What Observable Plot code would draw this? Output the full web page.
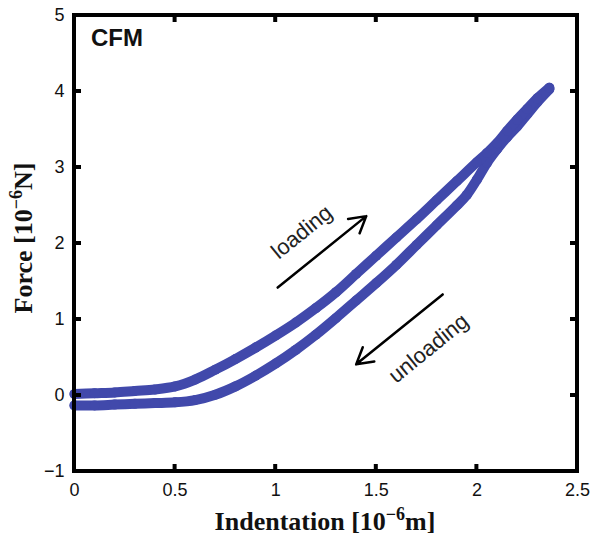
<!DOCTYPE html>
<html><head><meta charset="utf-8">
<script src="https://cdn.jsdelivr.net/npm/d3@7"></script>
<script src="https://cdn.jsdelivr.net/npm/@observablehq/plot@0.6"></script>
<style>html,body{margin:0;background:#fff;overflow:hidden} svg{display:block}</style>
</head><body><div id="chart"></div>
<script>
// Loading branch (upper curve)
const indentLoad = [0, 0.1, 0.2, 0.3, 0.4, 0.5, 0.6, 0.7, 0.8, 0.9, 1.0, 1.1, 1.2, 1.3, 1.4, 1.5, 1.6, 1.7, 1.8, 1.9, 2.0, 2.05, 2.1, 2.15, 2.2, 2.25, 2.3, 2.36];
const forceLoad  = [0.02, 0.03, 0.04, 0.06, 0.08, 0.12, 0.21, 0.34, 0.48, 0.63, 0.79, 0.96, 1.15, 1.36, 1.6, 1.84, 2.08, 2.32, 2.57, 2.82, 3.07, 3.19, 3.32, 3.48, 3.63, 3.77, 3.91, 4.05];
// Unloading branch (lower curve)
const indentUnload = [0, 0.1, 0.2, 0.3, 0.4, 0.5, 0.6, 0.7, 0.8, 0.9, 1.0, 1.1, 1.2, 1.3, 1.4, 1.5, 1.6, 1.7, 1.8, 1.9, 1.95, 2.0, 2.05, 2.1, 2.15, 2.2, 2.25, 2.3, 2.36];
const forceUnload  = [-0.13, -0.13, -0.12, -0.11, -0.1, -0.09, -0.06, 0.01, 0.12, 0.26, 0.42, 0.6, 0.8, 1.02, 1.25, 1.48, 1.72, 1.98, 2.24, 2.5, 2.64, 2.84, 3.06, 3.24, 3.4, 3.54, 3.7, 3.86, 4.03];

const xTicks = [0, 0.5, 1, 1.5, 2, 2.5];
const yTicks = [-1, 0, 1, 2, 3, 4, 5];
const xLimits = [0, 2.5];
const yLimits = [-1, 5];

// Annotations
const noteLabels = ["loading", "unloading"];
const noteX = [1.13, 1.76];
const noteY = [2.15, 0.62];
const arrowX1 = [1.01, 1.83];
const arrowY1 = [1.42, 1.33];
const arrowX2 = [1.45, 1.40];
const arrowY2 = [2.36, 0.41];

const color = "#4149ab";
const load = indentLoad.map((x, i) => ({x, y: forceLoad[i]}));
const unload = indentUnload.map((x, i) => ({x, y: forceUnload[i]}));
const notes = noteLabels.map((t, i) => ({t, x: noteX[i], y: noteY[i]}));
const arrows = arrowX1.map((x1, i) => ({x1, y1: arrowY1[i], x2: arrowX2[i], y2: arrowY2[i]}));
const fmt = d3.format("~g");

const plot = Plot.plot({
  width: 591,
  height: 541,
  marginLeft: 74,
  marginRight: 14,
  marginTop: 15,
  marginBottom: 70,
  style: {fontFamily: "'Liberation Sans', Arial, sans-serif", fontSize: "18px", color: "#111", background: "#fff"},
  x: {domain: xLimits},
  y: {domain: yLimits},
  marks: [
    Plot.line(unload, {x: "x", y: "y", stroke: color, strokeWidth: 10, curve: "catmull-rom", strokeLinecap: "round"}),
    Plot.dot(unload, {x: "x", y: "y", r: 5, fill: color}),
    Plot.line(load, {x: "x", y: "y", stroke: color, strokeWidth: 10, curve: "catmull-rom", strokeLinecap: "round"}),
    Plot.dot(load, {x: "x", y: "y", r: 5, fill: color}),
    Plot.arrow(arrows, {x1: "x1", y1: "y1", x2: "x2", y2: "y2", stroke: "#000", strokeWidth: 2.5, headLength: 11, bend: 0}),
    Plot.text(notes, {x: "x", y: "y", text: "t", rotate: -39, fontSize: 22, fill: "#222"}),
    Plot.axisX({ticks: xTicks, tickSize: 0, tickPadding: 12, tickFormat: fmt, label: null}),
    Plot.axisY({ticks: yTicks, tickSize: 0, tickPadding: 10, tickFormat: fmt, label: null})
  ]
});
document.getElementById("chart").appendChild(plot);

const svg = d3.select(plot);
const sx = plot.scale("x"), sy = plot.scale("y");
const X = v => sx.apply(v), Y = v => sy.apply(v);
const x0 = X(xLimits[0]), x1 = X(xLimits[1]), y0 = Y(yLimits[0]), y1 = Y(yLimits[1]);

// box with inward ticks on all four sides, drawn as filled bars
const box = svg.append("g").attr("fill", "#000").attr("stroke", "none");
const w = 4, h = w / 2, tl = 7;
const bar = (x, y, bw, bh) => box.append("rect").attr("x", x).attr("y", y).attr("width", bw).attr("height", bh);
bar(x0 - h, y1 - h, x1 - x0 + w, w);   // top
bar(x0 - h, y0 - h, x1 - x0 + w, w);   // bottom
bar(x0 - h, y1 - h, w, y0 - y1 + w);   // left
bar(x1 - h, y1 - h, w, y0 - y1 + w);   // right
for (const t of xTicks) {
  bar(X(t) - h, y0 - tl, w, tl);
  bar(X(t) - h, y1, w, tl);
}
for (const t of yTicks) {
  bar(x0, Y(t) - h, tl, w);
  bar(x1 - tl, Y(t) - h, tl, w);
}

// panel label
svg.append("text").attr("x", 91).attr("y", 46).attr("text-anchor", "start")
  .attr("font-family", "'Liberation Sans', Arial, sans-serif").attr("font-weight", "bold")
  .attr("font-size", 24).attr("fill", "#111").text("CFM");

// x title
const xt = svg.append("text").attr("x", 325).attr("y", 530).attr("text-anchor", "middle")
  .attr("font-family", "'Liberation Serif', 'Times New Roman', serif").attr("font-weight", "bold")
  .attr("font-size", 26).attr("fill", "#111");
xt.append("tspan").text("Indentation [10");
xt.append("tspan").attr("dy", -10).attr("font-size", 18).text("−6");
xt.append("tspan").attr("dy", 10).text("m]");

// y title
const yt = svg.append("text").attr("transform", "translate(32,238) rotate(-90)").attr("text-anchor", "middle")
  .attr("font-family", "'Liberation Serif', 'Times New Roman', serif").attr("font-weight", "bold")
  .attr("font-size", 26).attr("fill", "#111");
yt.append("tspan").text("Force [10");
yt.append("tspan").attr("dy", -10).attr("font-size", 18).text("−6");
yt.append("tspan").attr("dy", 10).text("N]");
</script>
</body></html>
